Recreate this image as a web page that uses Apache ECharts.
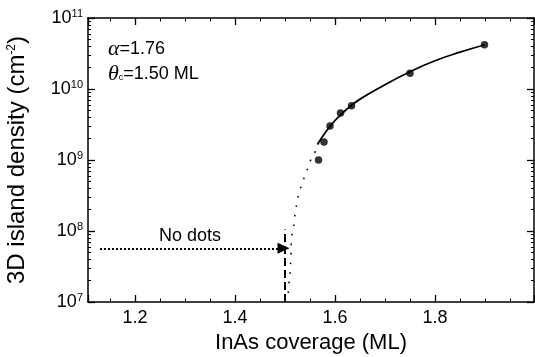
<!DOCTYPE html>
<html>
<head>
<meta charset="utf-8">
<script src="https://cdn.jsdelivr.net/npm/echarts@6/dist/echarts.min.js"></script>
<style>
  html, body { margin: 0; padding: 0; background: #fff; }
  #main { width: 535px; height: 357px; }
</style>
</head>
<body>
<div id="main"></div>
<script>
// measured points (InAs coverage in ML, island density in cm^-2)
var coverage = [1.567, 1.578, 1.590, 1.611, 1.633, 1.750, 1.899];
var density = [1.0e9, 1.8e9, 3.0e9, 4.6e9, 5.8e9, 1.66e10, 4.2e10];

// solid fit curve
var fitX = [1.565, 1.58, 1.60, 1.625, 1.65, 1.70, 1.75, 1.80, 1.85, 1.90];
var fitY = [1.65e9, 2.4e9, 3.6e9, 5.3e9, 7.2e9, 1.15e10, 1.75e10, 2.5e10, 3.3e10, 4.2e10];

// dotted part of the fit below the first point
var tailX = [1.5066, 1.508, 1.510, 1.511, 1.512, 1.513, 1.517, 1.519, 1.522, 1.525, 1.530, 1.537, 1.543, 1.550, 1.559, 1.565];
var tailY = [1.34e7, 1.85e7, 2.4e7, 3.3e7, 4.4e7, 7.9e7, 1.1e8, 1.5e8, 2.1e8, 2.8e8, 3.8e8, 5.3e8, 6.8e8, 9.5e8, 1.24e9, 1.65e9];

// critical thickness marker and "No dots" arrow
var critX = [1.5, 1.5];
var critY = [1e7, 1.05e8];
var arrowX = [1.13, 1.497];
var arrowY = [5.7e7, 5.7e7];

var yTicks = ['10^7', '10^8', '10^9', '10^10', '10^11'];

var font = 'Liberation Sans, Arial, sans-serif';

function pairs(xs, ys) {
    var out = [];
    for (var i = 0; i < xs.length; i++) {
        out.push([xs[i], ys[i]]);
    }
    return out;
}

var myChart = echarts.init(document.getElementById('main'));

var axisLine = { show: true, lineStyle: { color: '#000', width: 1.5 } };
var tick = { show: true, inside: true, length: 7, lineStyle: { color: '#000', width: 1.3 } };
var minor = { show: true, splitNumber: 4, length: 3.5, lineStyle: { color: '#000', width: 1 } };

var option = {
    backgroundColor: '#fff',
    animation: false,
    grid: { left: 88, right: 1, top: 18, bottom: 55, outerBoundsMode: 'none', containLabel: false },
    xAxis: [
        {
            type: 'value',
            min: 1.106,
            max: 1.998,
            splitNumber: 5,
            axisLine: axisLine,
            axisTick: tick,
            minorTick: minor,
            splitLine: { show: false },
            axisLabel: {
                color: '#000', fontSize: 18, fontFamily: font, margin: 7,
                formatter: function (v) {
                    var k = Math.round(v * 5);
                    if (Math.abs(v * 5 - k) > 1e-6) return '';
                    return (k / 5).toFixed(1);
                }
            },
            name: 'InAs coverage (ML)',
            nameLocation: 'middle',
            nameGap: 30,
            nameMoveOverlap: false,
            nameTextStyle: { color: '#000', fontSize: 22, fontFamily: font }
        },
        {
            type: 'value',
            position: 'top',
            min: 1.106,
            max: 1.998,
            splitNumber: 5,
            axisLine: axisLine,
            axisTick: tick,
            minorTick: minor,
            splitLine: { show: false },
            axisLabel: { show: false }
        }
    ],
    yAxis: [
        {
            type: 'log',
            logBase: 10,
            min: 1e7,
            max: 1e11,
            axisLine: axisLine,
            axisTick: tick,
            minorTick: { show: true, splitNumber: 9, length: 3, lineStyle: { color: '#000', width: 1 } },
            splitLine: { show: false },
            axisLabel: {
                margin: 5,
                formatter: function (v) {
                    var e = Math.round(Math.log(v) / Math.LN10);
                    var s = yTicks[e - 7];
                    return '{b|10}{s|' + s.split('^')[1] + '}';
                },
                rich: {
                    b: { color: '#000', fontSize: 18, fontFamily: font },
                    s: { color: '#000', fontSize: 11, fontFamily: font, padding: [0, 0, 9, 0] }
                }
            },
            name: '3D island density (cm{s|-2})',
            nameLocation: 'middle',
            nameRotate: 90,
            nameGap: 59,
            nameMoveOverlap: false,
            nameTextStyle: {
                color: '#000', fontSize: 24, fontFamily: font,
                rich: {
                    s: { color: '#000', fontSize: 12, fontFamily: font, padding: [0, 0, 11, 0] }
                }
            }
        },
        {
            type: 'log',
            logBase: 10,
            position: 'right',
            min: 1e7,
            max: 1e11,
            axisLine: axisLine,
            axisTick: tick,
            minorTick: { show: true, splitNumber: 9, length: 3, lineStyle: { color: '#000', width: 1 } },
            splitLine: { show: false },
            axisLabel: { show: false }
        }
    ],
    graphic: [
        {
            type: 'text',
            left: 108,
            top: 38,
            style: {
                text: '{g|α}=1.76',
                fill: '#000',
                font: '18px ' + font,
                rich: {
                    g: { fontSize: 22, fontStyle: 'italic', fontFamily: 'Liberation Serif, serif', fill: '#000' }
                }
            }
        },
        {
            type: 'text',
            left: 108,
            top: 63,
            style: {
                text: '{g|θ}{c|c}=1.50 ML',
                fill: '#000',
                font: '18px ' + font,
                rich: {
                    g: { fontSize: 22, fontStyle: 'italic', fontFamily: 'Liberation Serif, serif', fill: '#000' },
                    c: { fontSize: 9, fill: '#000', padding: [8, 0, 0, 0] }
                }
            }
        },
        {
            type: 'text',
            x: 190,
            y: 236,
            style: {
                text: 'No dots',
                fill: '#000',
                font: '18px ' + font,
                align: 'center',
                verticalAlign: 'middle'
            }
        }
    ],
    series: [
        {
            name: 'tail',
            type: 'line',
            data: pairs(tailX, tailY),
            symbol: 'none',
            smooth: true,
            lineStyle: { color: '#000', width: 1.6, type: [1.6, 8] }
        },
        {
            name: 'fit',
            type: 'line',
            data: pairs(fitX, fitY),
            symbol: 'none',
            smooth: true,
            lineStyle: { color: '#000', width: 1.8 }
        },
        {
            name: 'critical',
            type: 'line',
            data: pairs(critX, critY),
            symbol: 'none',
            lineStyle: { color: '#000', width: 2, type: [8, 4] },
            markLine: {
                silent: true,
                symbol: ['none', 'triangle'],
                symbolSize: [11, 12],
                label: { show: false },
                lineStyle: { color: '#000', width: 2, type: [2, 2] },
                data: [[
                    { coord: [arrowX[0], arrowY[0]] },
                    { coord: [arrowX[1], arrowY[1]] }
                ]]
            }
        },
        {
            name: 'data',
            type: 'scatter',
            data: pairs(coverage, density),
            symbol: 'circle',
            symbolSize: 7.5,
            itemStyle: { color: '#000' }
        }
    ]
};

myChart.setOption(option);
</script>
</body>
</html>
